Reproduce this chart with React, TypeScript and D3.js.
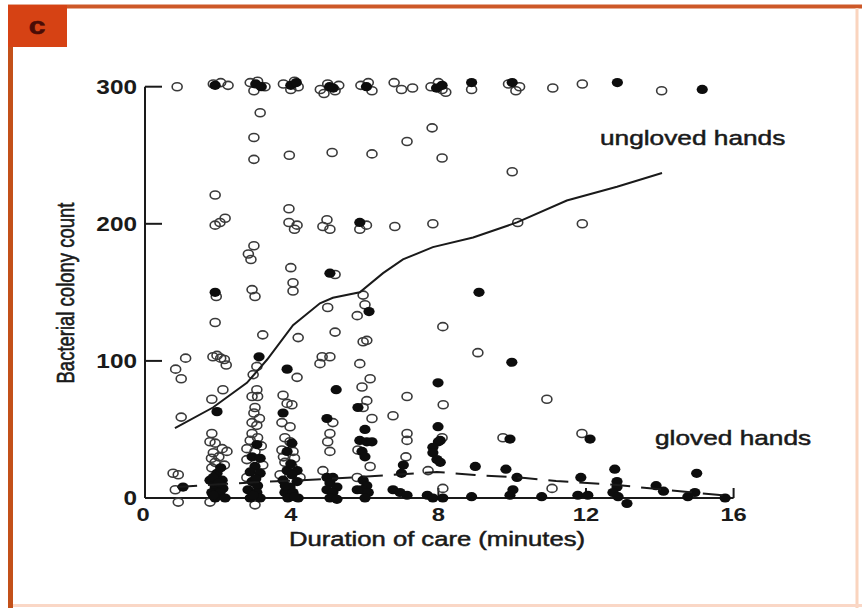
import React from "react";
import * as d3 from "d3";

// ---- data ----
const xTicks = [0, 4, 8, 12, 16];
const yTicks = [0, 100, 200, 300];

// ungloved hands (open circles): [minutes, colony count]
const ungloved: [number, number][] = [
  [0.92, 300], [1.9, 302], [2.1, 303], [2.3, 301], [2.9, 303], [3.1, 304], [3.3, 300], [3.0, 297],
  [3.8, 302], [4.0, 298], [4.2, 300], [4.1, 304], [4.8, 298], [5.0, 302], [5.2, 297], [4.9, 295],
  [5.3, 301], [5.9, 301], [6.1, 303], [6.2, 297], [6.8, 303], [7.0, 298], [7.3, 299], [7.8, 300],
  [8.0, 303], [8.2, 296], [8.1, 298], [8.9, 298], [9.9, 302], [10.1, 297], [10.2, 300], [11.1, 299],
  [11.9, 302], [14.05, 297],
  [3.17, 281], [3.0, 263], [3.0, 247], [3.96, 250], [5.12, 252], [6.2, 251], [7.15, 260], [7.83, 270],
  [8.1, 248], [10.0, 238],
  [1.95, 221], [1.95, 199], [2.08, 201], [2.22, 204], [3.95, 211], [3.95, 201], [4.17, 199], [4.1, 196],
  [4.98, 203], [4.87, 198], [5.06, 196], [6.05, 199], [5.87, 196], [6.82, 198], [7.85, 200], [10.15, 201],
  [11.9, 200],
  [3.0, 184], [2.85, 178], [2.92, 174], [4.0, 168], [5.2, 163], [4.06, 157], [4.06, 151], [2.95, 152],
  [3.03, 147], [1.98, 147], [5.96, 148], [6.01, 141], [5.8, 133], [5.0, 139], [8.12, 125], [1.95, 128],
  [3.24, 119], [4.2, 117], [5.2, 121], [5.96, 114], [6.06, 115], [4.85, 103], [5.06, 103], [3.08, 96],
  [2.98, 90], [4.17, 88], [5.87, 98], [6.15, 87], [5.93, 81], [8.13, 68], [9.07, 106], [10.94, 72],
  [1.15, 102], [0.88, 94], [1.03, 87], [1.03, 59], [0.81, 18], [0.95, 17], [0.87, 6], [0.95, -3],
  [1.89, 103], [2.0, 104], [2.1, 102], [2.2, 101], [2.25, 97], [2.16, 79], [1.86, 72], [1.86, 47],
  [1.81, 41], [1.95, 40], [2.14, 36], [2.27, 34], [1.9, 33], [1.95, 26], [1.86, 22], [1.9, 13], [1.81, -3],
  [2.05, 30], [2.2, 24], [1.85, 29],
  [2.95, 74], [3.08, 79], [3.1, 74], [3.03, 66], [3.0, 62], [2.95, 55], [3.08, 53], [2.95, 47],
  [3.1, 44], [2.81, 36], [3.03, 34], [2.81, 28], [3.24, 24], [2.81, 15], [3.03, -5],
  [3.15, 58], [2.9, 42], [3.2, 38],
  [3.79, 75], [3.9, 69], [4.03, 68], [3.76, 55], [3.98, 52], [3.84, 44], [3.98, 41], [3.76, 35],
  [4.06, 34], [3.84, 26], [4.03, 23], [3.71, 17], [4.25, 15], [4.1, 29], [3.8, 30],
  [4.79, 98], [5.14, 55], [5.06, 47], [5.0, 41], [5.06, 34], [4.87, 20],
  [6.06, 71], [5.96, 66], [6.2, 58], [5.82, 35], [6.15, 23], [5.8, 15],
  [7.15, 74], [6.77, 60], [7.15, 47], [7.15, 42], [7.12, 30],
  [8.1, 44], [8.12, 7], [7.72, 20],
  [9.75, 44], [11.89, 47], [11.08, 7],
];

// gloved hands (filled circles)
const gloved: [number, number][] = [
  [1.95, 301], [3.05, 302], [3.2, 300], [4.0, 301], [4.15, 303], [5.05, 300], [5.15, 299], [6.05, 300],
  [7.95, 299], [8.1, 301], [8.9, 303], [10.0, 303], [12.85, 303], [15.15, 298],
  [5.87, 201], [5.06, 164], [1.95, 150], [6.12, 136], [3.14, 103], [3.9, 94], [5.23, 79], [7.99, 84],
  [9.1, 150], [9.99, 99], [2.0, 63], [3.79, 62], [5.82, 66], [4.98, 58], [7.99, 52], [8.0, 41],
  [7.85, 37], [8.05, 42], [7.85, 33], [7.96, 28], [8.05, 26], [9.94, 43], [12.11, 43],
  [1.08, 8],
  [2.0, 18], [1.81, 13], [2.14, 13], [1.95, 8], [2.16, 7], [1.86, 4], [2.08, 4], [1.95, 0], [2.22, 0],
  [1.9, 15], [2.05, 11], [2.1, 22], [1.9, 2],
  [3.08, 39], [2.95, 30], [3.17, 29], [3.03, 23], [2.9, 19], [3.17, 18], [2.95, 12], [3.1, 9],
  [2.84, 6], [3.08, 4], [2.9, 0], [3.17, 0], [3.05, 14], [2.98, 2],
  [4.03, 40], [3.9, 34], [3.9, 20], [4.17, 20], [4.03, 17], [3.79, 13], [4.17, 12], [3.98, 8],
  [3.84, 4], [4.06, 4], [3.92, 0], [4.2, 0], [4.0, 25], [3.85, 9], [4.1, 1],
  [4.98, 15], [5.14, 15], [5.06, 11], [5.25, 8], [4.98, 6], [5.14, 4], [5.06, 0], [5.25, -1],
  [6.01, 50], [5.87, 42], [6.06, 41], [6.2, 41], [5.93, 34], [6.01, 30], [5.96, 13], [6.06, 9],
  [5.93, 6], [6.1, 4], [6.01, 0], [5.8, 6],
  [7.05, 24], [7.0, 18], [6.77, 6], [6.96, 4], [7.15, 2],
  [7.7, 2], [7.85, 0], [8.12, 0],
  [9.0, 23], [9.83, 21], [10.13, 15], [11.86, 15], [12.78, 21], [12.84, 12], [12.84, 8], [15.0, 18],
  [13.9, 9], [14.1, 5], [10.02, 6], [9.94, 2], [8.9, 1], [10.8, 1], [11.78, 2], [12.05, 2],
  [12.73, 4], [12.87, 1], [13.11, -4], [14.76, 1], [14.95, 4], [15.77, 0],
];

// smoothed trend lines
const unglovedTrend: [number, number][] = [
  [0.86, 51], [1.89, 66], [2.81, 84], [3.36, 101], [4.06, 126], [4.79, 142], [5.14, 146], [5.87, 150],
  [6.5, 164], [7.04, 174], [7.85, 183], [8.94, 190], [10.13, 201], [11.48, 217], [12.84, 227], [14.06, 237],
];
const glovedTrend: [number, number][] = [
  [0.92, 8], [2.08, 10], [3.22, 11.7], [4.3, 13], [5.4, 14.6], [6.74, 16.8], [7.96, 19], [8.99, 16.8],
  [10.35, 14.6], [11.19, 12.4], [12.84, 9.5], [13.65, 7.3], [14.76, 4.4], [15.9, 1.5],
];

const SX = 1.25; // horizontal stretch of the original figure's lettering

const T = ({ x, y, size, weight = "normal", anchor = "start", children, fill = "#1a1a1a", sw = 0 }: any) => (
  <text
    transform={`translate(${x},${y}) scale(${SX},1)`}
    fontSize={size}
    fontWeight={weight}
    textAnchor={anchor}
    fill={fill}
    stroke={sw ? fill : "none"}
    strokeWidth={sw}
    fontFamily="'Liberation Sans', Arial, sans-serif"
  >
    {children}
  </text>
);

export default function App() {
  const W = 862, H = 608;
  const x = d3.scaleLinear().domain([0, 16]).range([143.2, 733.6]);
  const y = d3.scaleLinear().domain([0, 300]).range([498, 86.7]);
  const line = d3.line<[number, number]>().x((d) => x(d[0])).y((d) => y(d[1])).curve(d3.curveLinear);
  const axisX0 = 145;

  return (
    <svg width={W} height={H} style={{ position: "absolute", left: 0, top: 0, background: "#fff" }}>
      <rect x={0} y={0} width={W} height={H} fill="#fff" />
      {/* frame */}
      <line x1={8} y1={6.5} x2={862} y2={6.5} stroke="rgb(205,88,40)" strokeWidth={4} />
      <line x1={857} y1={8} x2={857} y2={608} stroke="rgb(250,212,190)" strokeWidth={3} />
      <line x1={8} y1={605.5} x2={862} y2={605.5} stroke="rgb(250,215,198)" strokeWidth={3} />
      <line x1={10.5} y1={5} x2={10.5} y2={608} stroke="rgb(195,80,25)" strokeWidth={5} />
      <rect x={8} y={5} width={59} height={42} fill="rgb(214,66,20)" />
      <T x={37} y={34} size={24} weight="bold" anchor="middle" fill="#4a0c06" sw={0.6}>c</T>

      {/* axes */}
      <g stroke="#1a1a1a" strokeWidth={2} fill="none">
        <line x1={axisX0} y1={y(300)} x2={axisX0} y2={y(0)} />
        <line x1={axisX0} y1={y(0)} x2={x(16)} y2={y(0)} />
        {yTicks.filter((t) => t > 0).map((t) => (
          <line key={t} x1={axisX0} y1={y(t)} x2={axisX0 + 17} y2={y(t)} />
        ))}
        {xTicks.filter((t) => t > 0).map((t) => (
          <line key={t} x1={x(t)} y1={y(0)} x2={x(t)} y2={y(0) - 10} />
        ))}
      </g>
      {yTicks.map((t) => (
        <T key={t} x={137} y={y(t) + 7} size={19.5} weight="bold" anchor="end">{t}</T>
      ))}
      {xTicks.map((t) => (
        <T key={t} x={x(t)} y={521} size={19} weight="bold" anchor="middle">{t}</T>
      ))}
      <T x={437} y={546} size={20.5} anchor="middle" sw={0.5}>Duration of care (minutes)</T>
      <text
        transform={`translate(74,293) scale(${SX},1) rotate(-90)`}
        fontSize={18.5}
        textAnchor="middle"
        fill="#1a1a1a"
        stroke="#1a1a1a"
        strokeWidth={0.5}
        fontFamily="'Liberation Sans', Arial, sans-serif"
      >
        Bacterial colony count
      </text>
      <T x={600} y={145} size={21} anchor="start" sw={0.5}>ungloved hands</T>
      <T x={655} y={445} size={21} anchor="start" sw={0.5}>gloved hands</T>

      {/* points */}
      <g fill="none" stroke="#3a3a3a" strokeWidth={1.6}>
        {ungloved.map((d, i) => (
          <ellipse key={i} cx={x(d[0])} cy={y(d[1])} rx={5} ry={4} />
        ))}
      </g>
      <g fill="#0d0d0d">
        {gloved.map((d, i) => (
          <ellipse key={i} cx={x(d[0])} cy={y(d[1])} rx={5.6} ry={4.6} />
        ))}
      </g>

      {/* trend lines */}
      <path d={line(unglovedTrend) || ""} fill="none" stroke="#1a1a1a" strokeWidth={2} />
      <path d={line(glovedTrend) || ""} fill="none" stroke="#1a1a1a" strokeWidth={2} strokeDasharray="20 11" />
    </svg>
  );
}
